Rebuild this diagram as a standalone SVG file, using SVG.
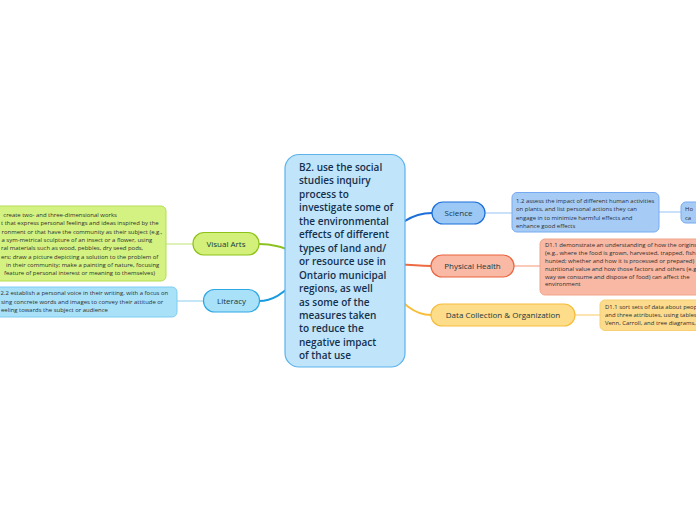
<svg xmlns="http://www.w3.org/2000/svg" width="696" height="520" viewBox="0 0 696 520">
<style>
text{font-family:"Open Sans","Noto Sans","Liberation Sans",sans-serif}
.bg{fill:#ffffff}
.c{fill:none;stroke-width:2;stroke-linecap:round}
.l{fill:none;stroke-width:1.2}
.lbl{font-size:8px;fill:#14393f;text-anchor:middle}
.d{font-size:5.95px;fill:#2e2e2e}
.root{font-size:10px;font-weight:600;fill:#14304f}
</style>
<rect class="bg" x="0" y="0" width="696" height="520"/>
<g id="connectors">
<path class="c" stroke="#1c6fd8" d="M345 261 C380 261 390 213 432 213"/>
<path class="c" stroke="#ee6a43" d="M345 261 C390 261 400 266 431 266"/>
<path class="c" stroke="#f8be3a" d="M345 261 C385 261 395 315 431 315"/>
<path class="c" stroke="#8cc21f" d="M345 261 C300 261 290 244 259 244"/>
<path class="c" stroke="#1a9be0" d="M345 261 C300 261 290 301 259 301"/>
<path class="l" stroke="#a9cdf5" d="M485 213 L512 213"/>
<path class="l" stroke="#a9cdf5" d="M659 212 L681 212"/>
<path class="l" stroke="#f7a58c" d="M514 266 L540 266"/>
<path class="l" stroke="#fbd27a" d="M575 315 L600 315"/>
<path class="l" stroke="#c9e88a" d="M193 244 L166 244"/>
<path class="l" stroke="#9fd6f2" d="M203 301 L177 301"/>
</g>
<g id="root">
<rect x="285" y="154.5" width="120" height="212.5" rx="14" fill="#c0e4f9" stroke="#5cb3ec" stroke-width="1.2"/>
<text class="root" x="299" y="171">B2. use the social</text>
<text class="root" x="299" y="184.45">studies inquiry</text>
<text class="root" x="299" y="197.9">process to</text>
<text class="root" x="299" y="211.35">investigate some of</text>
<text class="root" x="299" y="224.8">the environmental</text>
<text class="root" x="299" y="238.25">effects of different</text>
<text class="root" x="299" y="251.7">types of land and/</text>
<text class="root" x="299" y="265.15">or resource use in</text>
<text class="root" x="299" y="278.6">Ontario municipal</text>
<text class="root" x="299" y="292.05">regions, as well</text>
<text class="root" x="299" y="305.5">as some of the</text>
<text class="root" x="299" y="318.95">measures taken</text>
<text class="root" x="299" y="332.4">to reduce the</text>
<text class="root" x="299" y="345.85">negative impact</text>
<text class="root" x="299" y="359.3">of that use</text>
</g>
<g id="science">
<rect x="432" y="202" width="53" height="22" rx="11" fill="#9cc8f6" stroke="#1b6ed8" stroke-width="1.2"/>
<text class="lbl" x="458.5" y="215.9">Science</text>
</g>
<g id="science-desc">
<rect x="512" y="192.5" width="147" height="39.5" rx="5" fill="#a6ccf6" stroke="#76aaf0" stroke-width="1"/>
<text class="d" x="516" y="202.8">1.2 assess the impact of different human activities</text>
<text class="d" x="516" y="211.2">on plants, and list personal actions they can</text>
<text class="d" x="516" y="219.6">engage in to minimize harmful effects and</text>
<text class="d" x="516" y="228">enhance good effects</text>
</g>
<g id="science-more">
<rect x="681" y="202" width="30" height="21" rx="5" fill="#a6ccf6" stroke="#76aaf0" stroke-width="1"/>
<text class="d" x="685" y="211.2">Ho</text>
<text class="d" x="685" y="219.6">ca</text>
</g>
<g id="physical-health">
<rect x="431" y="255" width="83" height="22" rx="11" fill="#f9b9a5" stroke="#e9653f" stroke-width="1.2"/>
<text class="lbl" x="472.5" y="268.9">Physical Health</text>
</g>
<g id="physical-health-desc">
<rect x="540" y="239" width="170" height="56" rx="5" fill="#f8b8a4" stroke="#f0a58b" stroke-width="1"/>
<text class="d" x="545" y="247.4">D1.1 demonstrate an understanding of how the origins</text>
<text class="d" x="545" y="255.2">(e.g., where the food is grown, harvested, trapped, fish</text>
<text class="d" x="545" y="263">hunted; whether and how it is processed or prepared)</text>
<text class="d" x="545" y="270.8">nutritional value and how those factors and others (e.g</text>
<text class="d" x="545" y="278.6">way we consume and dispose of food) can affect the</text>
<text class="d" x="545" y="286.4">environment</text>
</g>
<g id="data-collection">
<rect x="431" y="304" width="144" height="22" rx="11" fill="#fddc8a" stroke="#f5bd3c" stroke-width="1.2"/>
<text class="lbl" x="503" y="317.9">Data Collection &amp; Organization</text>
</g>
<g id="data-collection-desc">
<rect x="600" y="300" width="110" height="30.5" rx="5" fill="#fddb8d" stroke="#f8cf73" stroke-width="1"/>
<text class="d" x="605" y="309.4">D1.1 sort sets of data about peop</text>
<text class="d" x="605" y="317.3">and three attributes, using tables</text>
<text class="d" x="605" y="325.2">Venn, Carroll, and tree diagrams,</text>
</g>
<g id="visual-arts">
<rect x="193" y="232.5" width="66" height="22.5" rx="11" fill="#d2f07a" stroke="#8ec21a" stroke-width="1.2"/>
<text class="lbl" x="226" y="246.6">Visual Arts</text>
</g>
<g id="visual-arts-desc">
<rect x="-20" y="206" width="186" height="75" rx="5" fill="#d4f281" stroke="#b4dd55" stroke-width="1"/>
<text class="d" x="3.3" y="216.8">create two- and three-dimensional works</text>
<text class="d" x="1" y="225.2">t that express personal feelings and ideas inspired by the</text>
<text class="d" x="1.5" y="233.5">ronment or that have the community as their subject (e.g.,</text>
<text class="d" x="1.5" y="241.9">a sym-metrical sculpture of an insect or a flower, using</text>
<text class="d" x="1" y="250.2">ral materials such as wood, pebbles, dry seed pods,</text>
<text class="d" x="1" y="258.6">ers; draw a picture depicting a solution to the problem of</text>
<text class="d" x="6" y="266.9">in their community; make a painting of nature, focusing</text>
<text class="d" x="4" y="275.3">feature of personal interest or meaning to themselves)</text>
</g>
<g id="literacy">
<rect x="203.5" y="289.5" width="56" height="22.5" rx="11" fill="#a9e1f8" stroke="#2ea8e4" stroke-width="1.2"/>
<text class="lbl" x="231.5" y="303.7">Literacy</text>
</g>
<g id="literacy-desc">
<rect x="-20" y="287" width="197" height="30" rx="5" fill="#a9e1f8" stroke="#7fcdf3" stroke-width="1"/>
<text class="d" x="0.5" y="295.4">2.2 establish a personal voice in their writing, with a focus on</text>
<text class="d" x="1" y="303.8">sing concrete words and images to convey their attitude or</text>
<text class="d" x="1" y="312.2">eeling towards the subject or audience</text>
</g>
</svg>
